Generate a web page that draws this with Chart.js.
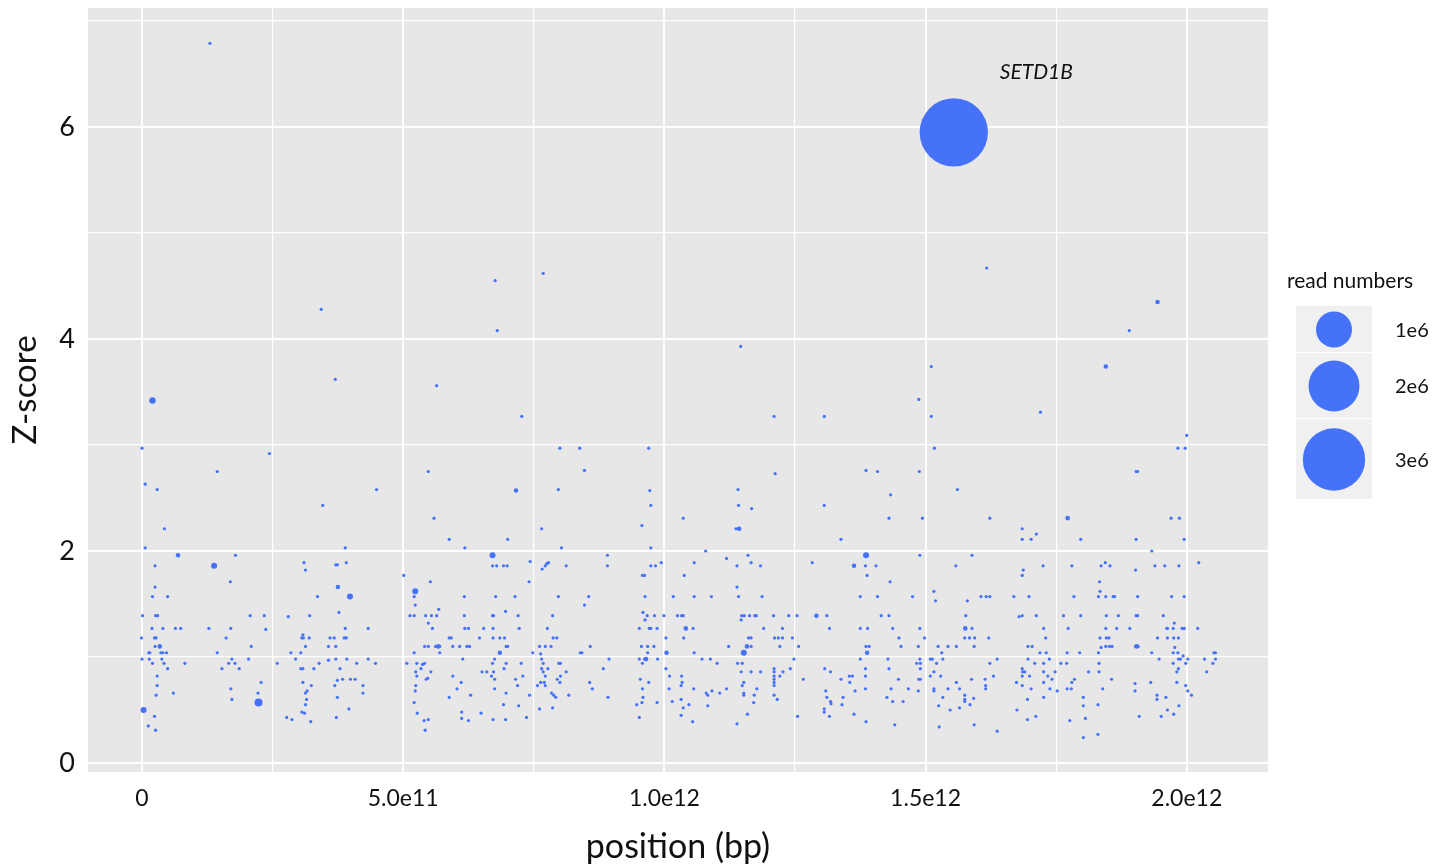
<!DOCTYPE html>
<html>
<head>
<meta charset="utf-8">
<script src="https://cdn.jsdelivr.net/npm/chart.js@4.4.1/dist/chart.umd.min.js"></script>
<style>
  html, body { margin: 0; padding: 0; background: #fff; }
  #wrap { width: 1442px; height: 867px; }
</style>
</head>
<body>
<div id="wrap"><canvas id="zChart" width="1442" height="867"></canvas></div>
<script>
// positions are in units of 1e12 bp (Tbp)
const bigPosition = [1.554, 0.069, 0.138, 0.034, 0.223, 0.003, 0.375, 0.398, 0.671, 0.523, 0.567, 0.685, 1.004, 0.965, 1.041,
  1.143, 1.386, 1.363, 1.291, 1.576, 1.158, 1.152, 1.388, 1.904, 0.020, 0.716, 1.944, 1.845, 1.772];
const bigZScore = [5.95, 1.96, 1.86, 1.10, 0.57, 0.50, 1.66, 1.57, 1.96, 1.62, 1.10, 1.04, 1.04, 0.98, 1.27,
  2.21, 1.96, 1.86, 1.39, 1.27, 1.10, 1.04, 1.04, 1.10, 3.42, 2.57, 4.35, 3.74, 2.31];
const bigReads = [3.6e6, 1.6e4, 2.8e4, 1.6e4, 5e4, 2.8e4, 1.6e4, 2.8e4, 2.8e4, 2.8e4, 1.6e4, 1.6e4, 1.6e4, 1.6e4, 1.6e4,
  1.6e4, 2.8e4, 1.6e4, 1.6e4, 1.6e4, 1.6e4, 2.8e4, 1.6e4, 1.6e4, 3.2e4, 1.6e4, 1.6e4, 1.6e4, 1.6e4];
const geneLabel = 'SETD1B';

// low-read loci: [position (Tbp), Z-score]
const smallDotReads = 8e3;
const smallDots = [
  [0.043,2.21],[0.006,2.03],[0.179,1.96],[0.025,1.86],[0.169,1.71],[0.025,1.66],[0.020,1.57],[0.049,1.57],
  [0.001,1.39],[0.026,1.39],[0.030,1.39],[0.207,1.39],[0.234,1.39],
  [0.019,1.27],[0.040,1.27],[0.064,1.27],[0.074,1.27],[0.128,1.27],[0.170,1.27],[0.237,1.26],
  [-0.001,1.18],[0.024,1.18],[0.027,1.18],[0.161,1.18],[0.025,1.10],[0.209,1.10],
  [0.013,1.04],[0.015,1.04],[0.036,1.04],[0.040,1.04],[0.047,1.04],[0.144,1.04],
  [0.000,0.98],[0.014,0.98],[0.038,0.98],[0.172,0.98],[0.204,0.98],
  [0.020,0.94],[0.042,0.94],[0.082,0.94],[0.166,0.94],[0.178,0.94],
  [0.049,0.89],[0.153,0.89],[0.186,0.89],[0.029,0.82],[0.029,0.73],[0.228,0.76],
  [0.027,0.64],[0.060,0.66],[0.170,0.70],[0.172,0.60],[0.222,0.66],
  [0.024,0.44],[0.012,0.35],[0.026,0.31],

  [0.389,2.03],[0.310,1.89],[0.313,1.82],[0.371,1.87],[0.374,1.87],[0.391,1.89],[0.336,1.57],[0.377,1.42],[0.280,1.38],[0.321,1.39],
  [0.308,1.21],[0.306,1.18],[0.309,1.18],[0.320,1.18],[0.360,1.18],[0.368,1.18],[0.389,1.27],[0.433,1.27],[0.387,1.18],[0.391,1.18],
  [0.313,1.10],[0.357,1.10],[0.371,1.10],[0.285,1.04],[0.304,1.04],[0.294,0.98],[0.371,0.98],[0.392,0.98],[0.433,0.98],[0.357,0.97],
  [0.259,0.94],[0.339,0.94],[0.411,0.94],[0.447,0.94],[0.304,0.89],[0.308,0.89],[0.329,0.89],[0.379,0.89],
  [0.308,0.76],[0.324,0.73],[0.374,0.78],[0.384,0.79],[0.399,0.79],[0.408,0.79],[0.369,0.73],[0.423,0.73],
  [0.316,0.68],[0.313,0.66],[0.315,0.60],[0.313,0.55],[0.423,0.66],[0.374,0.62],
  [0.306,0.48],[0.311,0.47],[0.323,0.39],[0.396,0.51],[0.277,0.43],[0.287,0.41],[0.372,0.43],

  [0.501,1.77],[0.588,2.11],[0.618,2.03],[0.700,2.11],[0.765,2.21],[0.803,2.03],[0.957,2.24],[0.974,2.03],
  [0.671,1.86],[0.679,1.86],[0.692,1.86],[0.699,1.86],[0.743,1.90],[0.766,1.83],[0.772,1.86],[0.775,1.88],[0.778,1.89],
  [0.812,1.86],[0.891,1.96],[0.891,1.86],[0.958,1.77],[0.962,1.77],[0.974,1.86],[0.983,1.86],[0.994,1.89],
  [0.552,1.71],[0.741,1.71],[0.521,1.57],[0.523,1.49],[0.617,1.57],[0.677,1.57],[0.714,1.57],[0.797,1.57],[0.855,1.57],[0.847,1.49],[0.963,1.57],
  [0.513,1.39],[0.521,1.39],[0.543,1.39],[0.554,1.39],[0.564,1.39],[0.568,1.45],[0.617,1.39],[0.671,1.39],[0.673,1.39],
  [0.696,1.43],[0.720,1.39],[0.786,1.39],[0.959,1.42],[0.967,1.39],[0.981,1.39],[0.999,1.39],[0.963,1.35],
  [0.548,1.32],[0.556,1.27],[0.618,1.27],[0.625,1.27],[0.654,1.27],[0.672,1.27],[0.722,1.27],[0.776,1.27],[0.952,1.27],[0.971,1.27],[0.974,1.27],[0.986,1.27],
  [0.588,1.18],[0.592,1.18],[0.646,1.18],[0.672,1.18],[0.685,1.18],[0.694,1.18],[0.787,1.18],[0.794,1.18],[1.003,1.18],
  [0.541,1.10],[0.548,1.10],[0.562,1.10],[0.570,1.10],[0.595,1.10],[0.608,1.10],[0.622,1.10],[0.627,1.10],[0.697,1.10],
  [0.700,1.10],[0.761,1.10],[0.772,1.10],[0.783,1.10],[0.858,1.10],[0.956,1.10],[0.968,1.10],[0.980,1.10],
  [0.521,1.04],[0.570,1.04],[0.748,1.04],[0.763,1.03],[0.839,1.04],[0.842,1.04],[0.968,1.04],
  [0.614,0.98],[0.675,0.98],[0.765,0.98],[0.894,0.98],[0.952,0.98],[0.962,0.98],[0.987,0.98],
  [0.507,0.94],[0.526,0.94],[0.537,0.93],[0.541,0.94],[0.671,0.94],[0.697,0.94],[0.726,0.94],[0.768,0.94],[0.798,0.94],[0.801,0.94],[0.958,0.94],
  [0.534,0.89],[0.693,0.89],[0.765,0.89],[0.777,0.89],[0.883,0.89],[1.003,0.89],
  [0.524,0.86],[0.553,0.86],[0.651,0.86],[0.660,0.86],[0.673,0.86],[0.768,0.86],[0.812,0.86],
  [0.526,0.82],[0.595,0.82],[0.669,0.82],[0.675,0.79],[0.729,0.82],[0.772,0.82],[0.801,0.82],[1.010,0.82],[1.033,0.82],
  [0.544,0.79],[0.547,0.80],[0.715,0.79],[0.795,0.79],
  [0.611,0.76],[0.757,0.73],[0.763,0.76],[0.770,0.76],[0.772,0.73],[0.800,0.76],[0.857,0.76],[0.954,0.79],[0.970,0.76],[1.034,0.76],[1.032,0.73],
  [0.524,0.73],[0.603,0.70],[0.675,0.70],[0.719,0.73],[0.862,0.70],[0.958,0.70],[1.009,0.70],[1.056,0.70],
  [0.523,0.68],[0.697,0.66],[0.784,0.66],[0.788,0.64],[0.792,0.62],[0.817,0.64],[1.080,0.66],[1.083,0.64],[1.091,0.68],
  [0.588,0.62],[0.629,0.64],[0.742,0.64],[0.892,0.62],[0.959,0.62],
  [0.521,0.57],[0.692,0.55],[0.721,0.54],[0.957,0.57],[0.947,0.55],[0.986,0.57],[1.015,0.58],[1.032,0.60],[1.036,0.52],[1.047,0.55],[1.083,0.54],
  [0.527,0.47],[0.612,0.48],[0.649,0.47],[0.786,0.52],[0.761,0.51],
  [0.540,0.40],[0.548,0.41],[0.612,0.42],[0.625,0.40],[0.672,0.41],[0.696,0.41],[0.736,0.43],[0.952,0.43],[1.032,0.45],[1.054,0.39],[0.542,0.31],
  [1.079,2.00],[1.057,1.89],[1.038,1.77],[1.017,1.57],[1.057,1.57],[1.090,1.57],[1.025,1.39],[1.033,1.39],[1.036,1.39],
  [1.055,1.27],[1.037,1.18],[1.057,1.04],[1.072,0.98],[1.088,0.98],[1.101,0.94],

  [1.137,2.21],[1.338,2.11],[1.119,1.93],[1.160,1.96],[1.139,1.86],[1.166,1.89],[1.184,1.86],[1.283,1.89],[1.385,1.86],[1.405,1.86],
  [1.388,1.77],[1.432,1.71],[1.139,1.66],[1.142,1.57],[1.187,1.57],[1.375,1.57],[1.408,1.57],[1.475,1.57],[1.489,1.96],[1.558,1.86],
  [1.589,1.96],[1.685,2.21],[1.685,2.11],[1.702,2.11],[1.712,2.16],[1.725,1.86],[1.687,1.82],[1.685,1.77],[1.516,1.62],[1.519,1.53],
  [1.580,1.53],[1.606,1.57],[1.616,1.57],[1.623,1.57],[1.669,1.57],[1.698,1.57],
  [1.147,1.35],[1.148,1.39],[1.153,1.39],[1.163,1.39],[1.173,1.39],[1.176,1.39],[1.209,1.39],[1.238,1.39],[1.254,1.39],[1.311,1.39],
  [1.415,1.39],[1.430,1.39],[1.577,1.39],[1.679,1.38],[1.685,1.39],[1.712,1.39],
  [1.190,1.27],[1.226,1.27],[1.316,1.27],[1.375,1.27],[1.389,1.27],[1.437,1.27],[1.489,1.27],[1.589,1.27],[1.726,1.27],
  [1.161,1.18],[1.166,1.18],[1.211,1.18],[1.218,1.18],[1.226,1.18],[1.245,1.18],[1.449,1.18],[1.498,1.18],[1.575,1.18],[1.584,1.18],
  [1.594,1.18],[1.621,1.18],[1.730,1.18],
  [1.123,1.10],[1.166,1.10],[1.221,1.10],[1.257,1.10],[1.386,1.10],[1.392,1.10],[1.453,1.10],[1.486,1.10],[1.524,1.10],[1.543,1.10],
  [1.559,1.10],[1.593,1.10],[1.696,1.10],[1.704,1.10],
  [1.531,1.04],[1.719,1.04],[1.731,1.04],
  [1.248,0.98],[1.375,0.98],[1.428,0.98],[1.489,0.98],[1.509,0.98],[1.513,0.98],[1.533,0.98],[1.637,0.98],[1.696,0.98],[1.737,0.98],
  [1.140,0.94],[1.149,0.94],[1.483,0.94],[1.490,0.94],[1.521,0.94],[1.623,0.94],[1.709,0.94],[1.726,0.94],
  [1.210,0.89],[1.241,0.89],[1.307,0.89],[1.385,0.89],[1.430,0.89],[1.490,0.89],[1.685,0.89],
  [1.147,0.86],[1.166,0.86],[1.184,0.86],[1.210,0.86],[1.227,0.86],[1.318,0.86],[1.516,0.86],[1.686,0.86],[1.690,0.86],[1.726,0.86],[1.748,0.86],
  [1.210,0.82],[1.221,0.82],[1.354,0.82],[1.360,0.82],[1.385,0.82],[1.509,0.82],[1.529,0.82],[1.630,0.82],[1.685,0.82],[1.699,0.82],[1.734,0.82],
  [1.210,0.79],[1.266,0.79],[1.338,0.79],[1.448,0.79],[1.487,0.79],[1.490,0.79],[1.588,0.79],[1.614,0.79],[1.742,0.79],
  [1.152,0.76],[1.149,0.73],[1.210,0.73],[1.210,0.76],[1.355,0.76],[1.559,0.76],[1.674,0.76],[1.726,0.76],[1.615,0.73],[1.685,0.73],
  [1.119,0.70],[1.106,0.66],[1.177,0.70],[1.309,0.68],[1.365,0.68],[1.385,0.70],[1.434,0.70],[1.467,0.70],[1.486,0.68],[1.516,0.70],
  [1.516,0.68],[1.543,0.70],[1.565,0.70],[1.615,0.70],[1.702,0.70],[1.738,0.70],[1.752,0.68],
  [1.152,0.66],[1.152,0.64],[1.172,0.64],[1.210,0.64],[1.216,0.60],[1.311,0.62],[1.318,0.58],[1.319,0.56],[1.342,0.62],[1.426,0.62],
  [1.437,0.58],[1.457,0.58],[1.533,0.62],[1.575,0.64],[1.575,0.60],[1.575,0.58],[1.592,0.61],[1.585,0.55],[1.695,0.60],[1.726,0.62],
  [1.171,0.57],[1.340,0.55],[1.525,0.54],[1.306,0.51],[1.306,0.48],[1.547,0.50],[1.565,0.52],[1.675,0.50],
  [1.159,0.46],[1.255,0.44],[1.316,0.44],[1.363,0.46],[1.711,0.44],[1.139,0.37],[1.386,0.39],[1.695,0.41],[1.441,0.36],[1.593,0.36],
  [1.526,0.34],[1.637,0.30],

  [1.797,2.11],[1.903,2.11],[1.995,2.11],[1.933,2.00],[1.780,1.86],[1.836,1.86],[1.844,1.89],[1.853,1.86],[1.902,1.82],[1.939,1.86],
  [1.958,1.86],[1.985,1.86],[2.023,1.89],[1.833,1.71],[1.834,1.62],[1.784,1.57],[1.831,1.57],[1.845,1.57],[1.859,1.57],[1.862,1.57],
  [1.906,1.57],[1.971,1.57],[1.995,1.57],
  [1.764,1.39],[1.797,1.39],[1.846,1.39],[1.869,1.39],[1.903,1.39],[1.906,1.39],[1.955,1.39],
  [1.773,1.27],[1.845,1.27],[1.866,1.27],[1.891,1.27],[1.962,1.27],[1.963,1.27],[1.974,1.27],[1.976,1.32],[1.991,1.27],[1.995,1.27],[2.021,1.27],
  [1.834,1.18],[1.846,1.18],[1.851,1.18],[1.944,1.18],[1.963,1.18],[1.975,1.18],[1.984,1.18],
  [1.845,1.10],[1.852,1.10],[1.857,1.10],[1.902,1.10],[1.907,1.10],[1.836,1.09],[1.977,1.09],
  [1.771,1.04],[1.795,1.04],[1.831,1.04],[1.933,1.04],[1.974,1.04],[1.983,1.04],[2.052,1.04],[2.055,1.04],
  [1.759,0.94],[1.770,0.94],[1.832,0.94],[1.974,0.94],[1.998,0.94],[2.050,0.94],
  [1.947,0.98],[1.984,0.98],[1.988,0.98],[1.993,1.01],[2.002,0.98],[2.034,0.98],[2.055,0.98],
  [1.812,0.86],[1.832,0.86],[1.981,0.86],[2.038,0.86],[1.984,0.89],
  [1.856,0.79],[1.785,0.79],[1.780,0.76],[1.901,0.75],[1.931,0.76],[1.981,0.76],[1.998,0.73],
  [1.771,0.70],[1.779,0.70],[1.839,0.70],[1.901,0.68],[2.002,0.68],[2.009,0.64],
  [1.802,0.62],[1.943,0.64],[1.943,0.60],[1.960,0.62],[1.802,0.54],[1.830,0.55],[1.963,0.50],[1.985,0.54],
  [1.909,0.44],[1.951,0.44],[1.975,0.46],[1.806,0.42],[1.776,0.40],[1.802,0.24],[1.830,0.27],

  [0.130,6.79],[0.343,4.28],[0.370,3.62],[0.564,3.56],[0.000,2.97],[0.244,2.92],[0.144,2.75],[0.006,2.63],[0.029,2.58],
  [0.548,2.75],[0.449,2.58],[0.346,2.43],[0.559,2.31],
  [0.676,4.55],[0.680,4.08],[0.768,4.62],[1.146,3.93],[0.727,3.27],[1.210,3.27],[1.306,3.27],[0.800,2.97],[0.838,2.97],[0.970,2.97],
  [0.847,2.76],[0.797,2.58],[0.972,2.57],[0.974,2.43],[1.212,2.73],[1.386,2.76],[1.408,2.75],[1.141,2.58],[1.142,2.43],[1.167,2.40],
  [1.306,2.43],[1.036,2.31],
  [1.617,4.67],[1.890,4.08],[1.511,3.74],[1.487,3.43],[1.511,3.27],[1.720,3.31],[2.000,3.09],[1.517,2.97],[1.983,2.97],[1.997,2.97],
  [1.488,2.75],[1.903,2.75],[1.906,2.75],[1.433,2.53],[1.561,2.58],[1.430,2.31],[1.494,2.31],[1.623,2.31],[1.970,2.31],[1.986,2.31]
];

const legendReads = [1e6, 2e6, 3e6];
const legendLabels = ['1e6', '2e6', '3e6'];
// axis breaks (major ones get labels, the others are minor grid lines)
const xBreaks = [0, 2.5e11, 5e11, 7.5e11, 1e12, 1.25e12, 1.5e12, 1.75e12, 2e12];
const yBreaks = [0, 1, 2, 3, 4, 5, 6, 7];

const TBP = 1e12;
const X_MIN = -0.1034 * TBP, X_MAX = 2.1555 * TBP;
const Y_MIN = -0.085, Y_MAX = 7.123;
const DOT_COLOR = '#4572F9';
const FONT = 'Lato, "Open Sans", sans-serif';

// ggplot-like area scale: 1e6 reads -> 18px radius
function readsToRadius(v) {
  return 18 * Math.sqrt(v / 1e6);
}

const points = smallDots.map(d => ({ x: d[0] * TBP, y: d[1], r: readsToRadius(smallDotReads) }));
bigPosition.forEach((p, i) => {
  points.push({ x: p * TBP, y: bigZScore[i], r: readsToRadius(bigReads[i]) });
});

const panelBg = {
  id: 'panelBg',
  beforeDraw(chart) {
    const { ctx, chartArea: a } = chart;
    ctx.save();
    ctx.fillStyle = '#E7E7E7';
    ctx.fillRect(a.left, a.top, a.right - a.left, a.bottom - a.top);
    ctx.restore();
  }
};

const extras = {
  id: 'extras',
  afterDraw(chart) {
    const { ctx } = chart;
    const xs = chart.scales.x, ys = chart.scales.y;
    // gene label next to the top hit
    const px = xs.getPixelForValue(bigPosition[0] * TBP);
    const py = ys.getPixelForValue(bigZScore[0]);
    ctx.save();
    ctx.fillStyle = '#111';
    ctx.font = 'italic 21px ' + FONT;
    ctx.textBaseline = 'middle';
    ctx.textAlign = 'left';
    ctx.fillText(geneLabel, px + 46, py - 60);

    // size legend
    ctx.font = '21px ' + FONT;
    ctx.fillText('read numbers', 1287, 281);
    ctx.font = '20px ' + FONT;
    let top = 306;
    legendReads.forEach((v, i) => {
      const r = readsToRadius(v);
      const h = Math.round(2.6 * r);
      ctx.fillStyle = '#F0F0F0';
      ctx.fillRect(1296, top, 76, h - 1);
      ctx.fillStyle = DOT_COLOR;
      ctx.beginPath();
      ctx.arc(1334, top + h / 2, r, 0, Math.PI * 2);
      ctx.fill();
      ctx.fillStyle = '#111';
      ctx.fillText(legendLabels[i], 1395, top + h / 2 + 1);
      top += h;
    });
    ctx.restore();
  }
};

const isMajorX = v => Math.round(v / 2.5e11) % 2 === 0;
const isMajorY = v => Math.round(v) % 2 === 0;

new Chart(document.getElementById('zChart'), {
  type: 'bubble',
  data: {
    datasets: [{
      data: points,
      backgroundColor: DOT_COLOR,
      borderWidth: 0,
      hoverRadius: 0
    }]
  },
  options: {
    responsive: false,
    animation: false,
    events: [],
    layout: { autoPadding: false, padding: { left: 0, right: 174, top: 8, bottom: 0 } },
    plugins: { legend: { display: false }, tooltip: { enabled: false } },
    scales: {
      x: {
        type: 'linear',
        min: X_MIN,
        max: X_MAX,
        afterBuildTicks: s => { s.ticks = xBreaks.map(v => ({ value: v })); },
        afterFit: s => { s.height = 95; s.paddingLeft = 0; s.paddingRight = 0; },
        border: { display: false },
        grid: {
          color: '#FFFFFF',
          drawTicks: false,
          lineWidth: c => (c.tick && isMajorX(c.tick.value)) ? 2 : 1.2
        },
        ticks: {
          autoSkip: false,
          maxRotation: 0,
          padding: 13,
          color: '#111',
          font: { family: FONT, size: 23 },
          callback: v => {
            if (!isMajorX(v)) return '';
            if (v === 0) return '0';
            return v.toExponential(1).replace('+', '');
          }
        },
        title: {
          display: true,
          text: 'position (bp)',
          color: '#111',
          font: { family: FONT, size: 34 },
          padding: { top: 0, bottom: 0 }
        }
      },
      y: {
        type: 'linear',
        min: Y_MIN,
        max: Y_MAX,
        afterBuildTicks: s => { s.ticks = yBreaks.map(v => ({ value: v })); },
        afterFit: s => { s.width = 88; s.paddingTop = 0; s.paddingBottom = 0; },
        border: { display: false },
        grid: {
          color: '#FFFFFF',
          drawTicks: false,
          lineWidth: c => (c.tick && isMajorY(c.tick.value)) ? 2 : 1.2
        },
        ticks: {
          autoSkip: false,
          padding: 13,
          color: '#111',
          font: { family: FONT, size: 27 },
          callback: v => isMajorY(v) ? String(v) : ''
        },
        title: {
          display: true,
          text: 'Z-score',
          color: '#111',
          font: { family: FONT, size: 33 },
          padding: { top: 6, bottom: 0 }
        }
      }
    }
  },
  plugins: [panelBg, extras]
});
</script>
</body>
</html>
